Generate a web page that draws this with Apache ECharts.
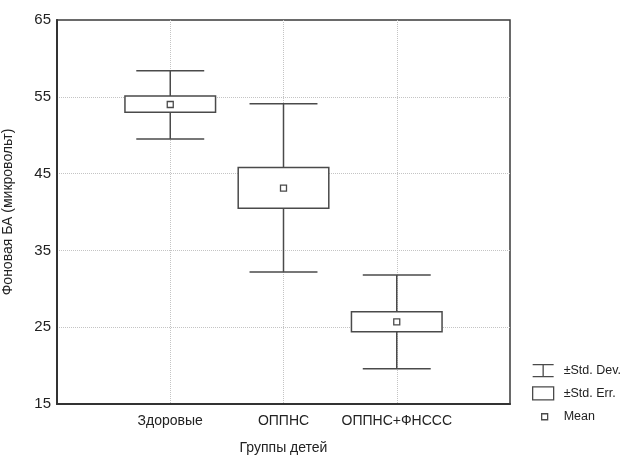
<!DOCTYPE html>
<html>
<head>
<meta charset="utf-8">
<script src="https://cdn.jsdelivr.net/npm/echarts@6/dist/echarts.min.js"></script>
<style>
  html, body { margin: 0; padding: 0; background: #fff; }
  #chart { width: 623px; height: 455px; }
</style>
</head>
<body>
<div id="chart"></div>
<script>
// Groups of children and the background activity statistics per group
const categories = ['Здоровые', 'ОППНС', 'ОППНС+ФНССС'];
const means  = [54.0, 43.1, 25.7];
const sdHigh = [58.4, 54.1, 31.8];
const sdLow  = [49.5, 32.2, 19.6];
const seHigh = [55.1, 45.8, 27.0];
const seLow  = [53.0, 40.5, 24.4];
const yMin = 15, yMax = 65, yStep = 10;

const FONT = '"Liberation Sans", Arial, sans-serif';
const INK = '#4a4a4a';

const positions = categories.map((_, i) => i + 1);
const sdData = positions.map((x, i) => [x, sdLow[i], sdHigh[i]]);
const seData = positions.map((x, i) => [x, seLow[i], seHigh[i]]);
const meanData = positions.map((x, i) => [x, means[i]]);

const lineStyle = { stroke: INK, lineWidth: 1.5 };

function renderWhisker(params, api) {
  const x = api.value(0);
  const top = api.coord([x, api.value(2)]);
  const bot = api.coord([x, api.value(1)]);
  const half = api.size([0.3, 0])[0];
  return {
    type: 'group',
    children: [
      { type: 'line', shape: { x1: top[0], y1: top[1], x2: bot[0], y2: bot[1] }, style: lineStyle },
      { type: 'line', shape: { x1: top[0] - half, y1: top[1], x2: top[0] + half, y2: top[1] }, style: lineStyle },
      { type: 'line', shape: { x1: bot[0] - half, y1: bot[1], x2: bot[0] + half, y2: bot[1] }, style: lineStyle }
    ]
  };
}

function renderBox(params, api) {
  const x = api.value(0);
  const top = api.coord([x, api.value(2)]);
  const bot = api.coord([x, api.value(1)]);
  const half = api.size([0.4, 0])[0];
  return {
    type: 'rect',
    shape: { x: top[0] - half, y: top[1], width: half * 2, height: bot[1] - top[1] },
    style: { fill: '#fff', stroke: INK, lineWidth: 1.5 }
  };
}

const chart = echarts.init(document.getElementById('chart'), null, { renderer: 'canvas' });

const gridLines = {
  show: true,
  showMinLine: false,
  showMaxLine: false,
  lineStyle: { color: '#c4c4c4', type: 'dotted', width: 1 }
};

chart.setOption({
  animation: false,
  backgroundColor: '#fff',
  textStyle: { fontFamily: FONT },
  grid: {
    left: 57, right: 113, top: 20, bottom: 51,
    outerBoundsMode: 'none',
    containLabel: false,
    show: true, borderColor: '#3a3a3a', borderWidth: 1.5, backgroundColor: 'transparent'
  },
  xAxis: {
    type: 'value',
    min: 0, max: categories.length + 1, interval: 1,
    name: 'Группы детей',
    nameLocation: 'middle',
    nameGap: 37,
    nameTextStyle: { fontSize: 14, color: '#222', fontFamily: FONT },
    axisLine: { show: true, lineStyle: { color: '#333', width: 2 } },
    axisTick: { show: false },
    axisLabel: {
      fontSize: 14, color: '#222', margin: 10, fontFamily: FONT,
      formatter: v => (v >= 1 && v <= categories.length) ? categories[v - 1] : ''
    },
    splitLine: gridLines
  },
  yAxis: {
    type: 'value',
    min: yMin, max: yMax, interval: yStep,
    name: 'Фоновая БА (микровольт)',
    nameLocation: 'middle',
    nameGap: 42,
    nameTextStyle: { fontSize: 14, color: '#222', fontFamily: FONT },
    axisLine: { show: true, lineStyle: { color: '#333', width: 2 } },
    axisTick: { show: false },
    axisLabel: { fontSize: 15, color: '#222', margin: 6, fontFamily: FONT },
    splitLine: gridLines
  },
  legend: {
    orient: 'vertical',
    left: 532, top: 364,
    padding: 0,
    itemWidth: 21, itemHeight: 13, itemGap: 9,
    selectedMode: false,
    textStyle: { fontSize: 12.5, color: '#222', fontFamily: FONT, padding: [0, 0, 0, 5] },
    data: [
      {
        name: '±Std. Dev.',
        icon: 'path://M0,0.5H21M10.5,0.5V12.5M0,12.5H21',
        itemStyle: { color: 'transparent', borderColor: INK, borderWidth: 1.3 }
      },
      {
        name: '±Std. Err.',
        icon: 'rect',
        itemStyle: { color: '#fff', borderColor: INK, borderWidth: 1.3 }
      },
      {
        name: 'Mean',
        icon: 'path://M0,0M21,13M9,3.5H15V9.5H9Z',
        itemStyle: { color: '#fff', borderColor: INK, borderWidth: 1.3 }
      }
    ]
  },
  series: [
    {
      name: '±Std. Dev.',
      type: 'custom',
      renderItem: renderWhisker,
      encode: { x: 0, y: [1, 2] },
      itemStyle: { color: INK },
      data: sdData,
      z: 2
    },
    {
      name: '±Std. Err.',
      type: 'custom',
      renderItem: renderBox,
      encode: { x: 0, y: [1, 2] },
      itemStyle: { color: INK },
      data: seData,
      z: 3
    },
    {
      name: 'Mean',
      type: 'scatter',
      symbol: 'rect',
      symbolSize: 6,
      itemStyle: { color: '#fff', borderColor: INK, borderWidth: 1.3, opacity: 1 },
      data: meanData,
      z: 4
    }
  ]
});
</script>
</body>
</html>
